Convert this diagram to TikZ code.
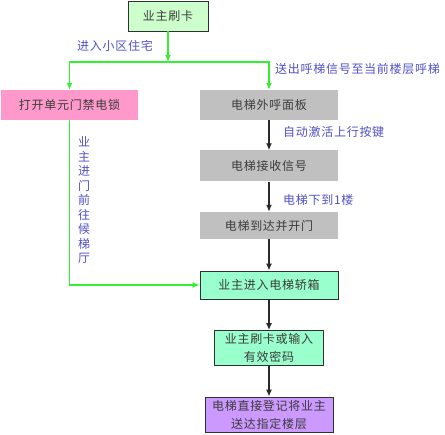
\documentclass[tikz,border=0pt]{standalone}
\usepackage{fontspec}
\setmainfont[LetterSpace=6]{Noto Sans CJK SC}
\usetikzlibrary{arrows.meta}
\definecolor{lgreen}{RGB}{204,255,204}
\definecolor{mint}{RGB}{153,255,204}
\definecolor{pinkbox}{RGB}{255,153,204}
\definecolor{graybox}{RGB}{192,192,192}
\definecolor{lilac}{RGB}{204,153,255}
\definecolor{flow}{RGB}{51,240,51}
\definecolor{note}{RGB}{80,80,200}
\definecolor{ink}{RGB}{60,60,60}
\begin{document}
\begin{tikzpicture}[x=1pt,y=-1pt,
	every node/.style={font=\fontsize{12}{18}\selectfont},
	box/.style={draw=ink!80!black,line width=.8pt,text=ink,inner sep=0pt,align=center},
	plain/.style={text=ink,inner sep=0pt,align=center},
	lbl/.style={text=note,inner sep=0pt},
	garrow/.style={flow,line width=1.3pt,-{Latex[length=7pt,width=6pt]}},
	karrow/.style={ink!70!black,line width=1.3pt,-{Latex[length=7pt,width=6pt]}},]
	\useasboundingbox (0,0) rectangle (445,435);
	% <<< cot trai
	\node[box,fill=lgreen,minimum width=80,minimum height=30] (card) at (168,16) {业主刷卡};
	\node[plain,fill=pinkbox,minimum width=137,minimum height=30] (door) at (69.5,105) {打开单元门禁电锁};
	% <<< cot phai
	\node[plain,fill=graybox,minimum width=138,minimum height=30] (panel) at (269,105) {电梯外呼面板};
	\node[plain,fill=graybox,minimum width=138,minimum height=31] (recv) at (269,166) {电梯接收信号};
	\node[plain,fill=graybox,minimum width=138,minimum height=27] (arrive) at (269,225.5) {电梯到达并开门};
	\node[box,fill=mint,minimum width=138,minimum height=28] (enter) at (269,285) {业主进入电梯轿箱};
	\node[box,fill=mint,minimum width=109,minimum height=35] (swipe) at (269,348) {业主刷卡或输入\\有效密码};
	\node[box,fill=lilac,minimum width=128,minimum height=35] (reach) at (269,414.5) {电梯直接登记将业主\\送达指定楼层};
	\coordinate (j) at (168,62);
	% <<< nhan
	\node[lbl] (l1) at (115,46) {进入小区住宅};
	\node[lbl,anchor=west] (l2) at (275,69) {送出呼梯信号至当前楼层呼梯};
	\node[lbl,anchor=west] (l3) at (283,132) {自动激活上行按键};
	\node[lbl,anchor=west] (l4) at (283,200) {电梯下到1楼};
	\node[lbl,align=center,font=\fontsize{12}{14.5}\selectfont] (l5) at (84,200)
	{业\\主\\进\\门\\前\\往\\候\\梯\\厅};
	% <<< mui ten
	\draw[garrow] (card)--(j);
	\draw[garrow] (j)-|(door);
	\draw[garrow] (j)-|(panel);
	\draw[garrow] (door.south)|-(enter.west);
	\draw[karrow] (panel)--(recv);
	\draw[karrow] (recv)--(arrive);
	\draw[karrow] (arrive)--(enter);
	\draw[karrow] (enter)--(swipe);
	\draw[karrow] (swipe)--(reach);
\end{tikzpicture}
\end{document}
